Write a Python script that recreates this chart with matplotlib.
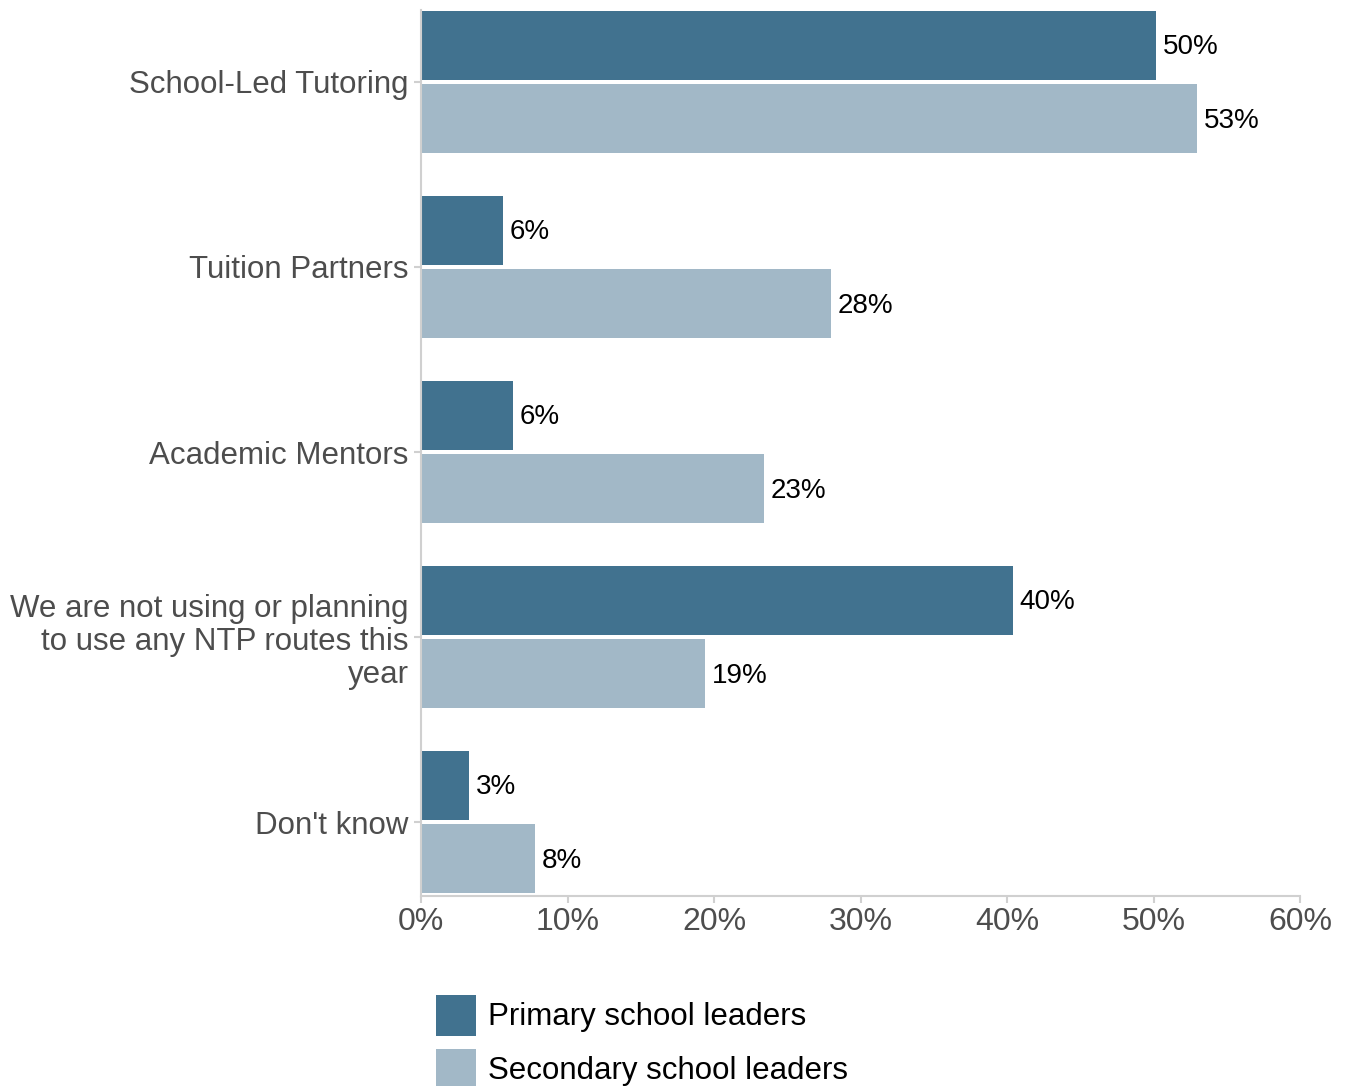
import matplotlib
matplotlib.use("Agg")
import matplotlib.pyplot as plt
import numpy as np
from matplotlib.patches import Patch

plt.rcParams['font.family'] = ['Liberation Sans', 'DejaVu Sans']

categories = [
    "School-Led Tutoring",
    "Tuition Partners",
    "Academic Mentors",
    "We are not using or planning\nto use any NTP routes this\nyear",
    "Don't know",
]
primary = [50.2, 5.6, 6.3, 40.4, 3.3]
secondary = [53.0, 28.0, 23.4, 19.4, 7.8]
series_names = ["Primary school leaders", "Secondary school leaders"]
xticks = [0, 10, 20, 30, 40, 50, 60]

c_primary = "#41728f"
c_secondary = "#a2b8c7"
grey = "#d0d0d0"
label_grey = "#4d4d4d"

fig = plt.figure(figsize=(13.46, 10.86), dpi=100)
y_top, y_bot = -0.39, 4.4
px_top = 82 + 185 * y_top
px_bot = 82 + 185 * y_bot
ax = fig.add_axes([421 / 1346, 1 - px_bot / 1086, (1300 - 421) / 1346, (px_bot - px_top) / 1086])

y = np.arange(len(categories))
h = 0.372
off = 0.1995
ax.barh(y - off, primary, height=h, color=c_primary, linewidth=0)
ax.barh(y + off, secondary, height=h, color=c_secondary, linewidth=0)

for yi, v in zip(y, primary):
    ax.text(v + 0.45, yi - off + 0.01, f"{v:.0f}%", va="center", ha="left", fontsize=20, color="black")
for yi, v in zip(y, secondary):
    ax.text(v + 0.45, yi + off + 0.01, f"{v:.0f}%", va="center", ha="left", fontsize=20, color="black")

ax.set_xlim(0, 60)
ax.set_ylim(y_bot, y_top)
ax.set_xticks(xticks)
ax.set_xticklabels([f"{t}%" for t in xticks], fontsize=23, color=label_grey)
ax.set_yticks(y)
ax.set_yticklabels(categories, fontsize=22.5, color=label_grey, linespacing=1.12)
ax.tick_params(axis="both", color=grey, width=1.5, length=5)
ax.tick_params(axis="x", pad=3)
ax.tick_params(axis="y", pad=4)
for s in ["top", "right"]:
    ax.spines[s].set_visible(False)
for s in ["left", "bottom"]:
    ax.spines[s].set_color(grey)
    ax.spines[s].set_linewidth(1.5)

handles = [Patch(facecolor=c_primary, edgecolor="none"), Patch(facecolor=c_secondary, edgecolor="none")]
fig.legend(handles, series_names, loc="upper left", bbox_to_anchor=(436 / 1346, 1 - 995 / 1086),
           frameon=False, fontsize=22.5, handlelength=1.28, handleheight=1.62,
           handletextpad=0.38, labelspacing=0.42, borderaxespad=0, borderpad=0)

fig.savefig("out.png", dpi=100)
